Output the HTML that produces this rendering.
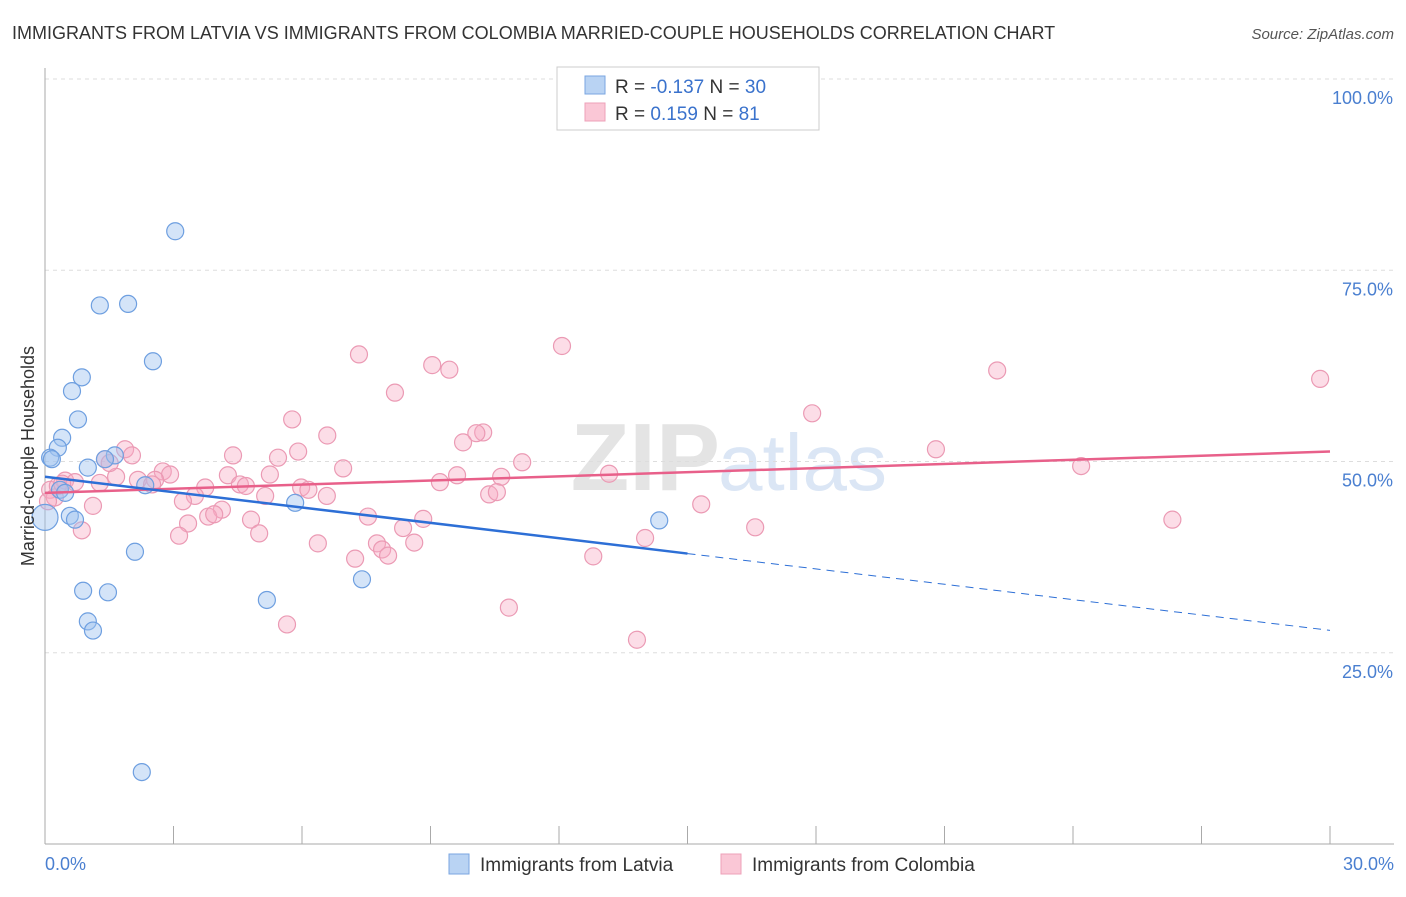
<!DOCTYPE html>
<html><head><meta charset="utf-8"><style>
body{margin:0;background:#fff;font-family:"Liberation Sans",sans-serif}
svg text{font-family:"Liberation Sans",sans-serif}
</style></head><body>
<svg id="c" width="1406" height="892">
<text x="12" y="39" font-size="18" fill="#333">IMMIGRANTS FROM LATVIA VS IMMIGRANTS FROM COLOMBIA MARRIED-COUPLE HOUSEHOLDS CORRELATION CHART</text>
<text x="1394" y="39" font-size="15" fill="#555" font-style="italic" text-anchor="end">Source: ZipAtlas.com</text>
<text x="720" y="490" font-size="96" font-family="Liberation Serif" fill="#e4e4e4" text-anchor="end" font-weight="bold">ZIP</text>
<text x="718" y="490" font-size="80" fill="#dbe6f5">atlas</text>
<g id="grid"></g><g id="pts"></g><g id="lines"></g>
<text transform="translate(34,456) rotate(-90)" font-size="18" fill="#333" text-anchor="middle">Married-couple Households</text>
<text x="45" y="870" font-size="18" fill="#4a7fd0">0.0%</text>
<text x="1394" y="870" font-size="18" fill="#4a7fd0" text-anchor="end">30.0%</text>
<g>
<rect x="557" y="67" width="262" height="63" fill="#fff" stroke="#ccc"/>
<rect x="585" y="76" width="20" height="18" fill="#b9d3f3" stroke="#7aa6e0"/>
<rect x="585" y="103" width="20" height="18" fill="#fac7d6" stroke="#eea0b8"/>
<text x="615" y="93" font-size="19" fill="#333">R = <tspan fill="#3a72cc">-0.137</tspan>   N = <tspan fill="#3a72cc">30</tspan></text>
<text x="615" y="120" font-size="19" fill="#333">R =  <tspan fill="#3a72cc"> 0.159</tspan>   N =  <tspan fill="#3a72cc"> 81</tspan></text>
</g>
<g>
<rect x="449" y="854" width="20" height="20" fill="#b9d3f3" stroke="#7aa6e0"/>
<text x="480" y="871" font-size="19" fill="#333">Immigrants from Latvia</text>
<rect x="721" y="854" width="20" height="20" fill="#fac7d6" stroke="#eea0b8"/>
<text x="752" y="871" font-size="19" fill="#333">Immigrants from Colombia</text>
</g>
</svg>
<script>
const yTicks=[25,50,75,100];
const yTickLabels=["25.0%","50.0%","75.0%","100.0%"];
const xTicks=[0,3,6,9,12,15,18,21,24,27,30];
const latviaX=[3.04,1.28,1.94,2.52,0.86,0.63,0.77,0.40,0.30,0.12,0.16,1.00,1.63,1.40,0.35,0.47,2.34,5.84,0.58,0.70,0,2.10,0.89,1.47,1.00,1.12,5.18,7.40,14.34,2.26];
const latviaY=[80.1,70.4,70.6,63.1,61.0,59.2,55.5,53.1,51.8,50.5,50.3,49.2,50.8,50.3,46.3,45.9,46.9,44.6,42.9,42.4,42.7,38.2,33.1,32.9,29.1,27.9,31.9,34.6,42.3,9.4];
const colX=[12.07,7.33,9.04,9.44,22.23,29.77,8.17,17.91,5.77,10.23,10.07,6.59,9.76,20.80,1.87,5.91,4.39,2.03,1.40,5.44,11.14,24.19,6.96,2.75,2.92,5.25,13.17,4.27,9.62,10.65,1.66,2.17,2.57,0.47,0.70,1.28,9.22,4.55,4.69,2.50,3.74,5.98,6.15,0.12,0.23,10.37,10.55,3.50,5.14,6.58,3.22,15.32,1.12,4.13,3.81,3.95,7.54,8.83,4.81,26.32,3.34,16.58,8.36,0.86,5.00,3.13,14.01,6.37,7.75,8.62,7.87,8.01,7.24,12.80,5.65,10.83,13.82,0.07,0.30,0.40,1.51];
const colY=[65.1,64.0,62.6,62.0,61.9,60.8,59.0,56.3,55.5,53.8,53.7,53.4,52.5,51.6,51.6,51.3,50.8,50.8,50.3,50.5,49.9,49.4,49.1,48.7,48.3,48.3,48.4,48.2,48.2,48.0,48.0,47.6,47.6,47.5,47.3,47.2,47.3,47.0,46.8,47.0,46.6,46.6,46.3,46.3,45.3,45.7,46.0,45.5,45.5,45.5,44.8,44.4,44.2,43.7,42.8,43.1,42.8,42.5,42.4,42.4,41.9,41.4,41.3,41.0,40.6,40.3,40.0,39.3,39.3,39.4,38.5,37.7,37.3,37.6,28.7,30.9,26.7,44.8,46.8,47.1,49.8];
const latviaTrend=[48.0,-0.669]; // intercept, slope per %
const colTrend=[45.9,0.18];
const NS="http://www.w3.org/2000/svg";
const sx=v=>45+v/30*1285, sy=v=>844-v/100*765;
function mk(t,a,p){const e=document.createElementNS(NS,t);for(const k in a)e.setAttribute(k,a[k]);p.appendChild(e);return e;}
const grid=document.getElementById('grid');
yTicks.forEach((t,i)=>{
 const l=mk('line',{x1:45,x2:1394,y1:sy(t),y2:sy(t),stroke:'#ddd','stroke-dasharray':'4,4'},grid);
 
 
 const tx=mk('text',{x:1393,y:sy(t)+25,'font-size':18,fill:'#4a7fd0','text-anchor':'end'},grid);
 tx.textContent=yTickLabels[i];
 
 
});
const ax=mk('line',{x1:45,x2:45,y1:68,y2:844,stroke:'#aaa'},grid);


const bx=mk('line',{x1:45,x2:1394,y1:844,y2:844,stroke:'#aaa'},grid);


xTicks.forEach(t=>{const l=mk('line',{x1:sx(t),x2:sx(t),y1:826,y2:844,stroke:'#aaa'},grid);
 
 });
const pts=document.getElementById('pts');
colX.forEach((x,i)=>{const c=mk('circle',{cx:sx(x),cy:sy(colY[i]),r:8.5,fill:'rgba(247,170,195,0.4)',stroke:'#eb9ab4','stroke-width':1.2},pts);
 
 });
latviaX.forEach((x,i)=>{const c=mk('circle',{cx:sx(x),cy:sy(latviaY[i]),r:x===0?13:8.5,fill:'rgba(160,196,240,0.45)',stroke:'#6e9fe0','stroke-width':1.2},pts);
 
 });
const lines=document.getElementById('lines');
const f=(tr,x)=>tr[0]+tr[1]*x;
let a=mk('line',{x1:sx(0),y1:sy(f(colTrend,0)),x2:sx(30),y2:sy(f(colTrend,30)),stroke:'#e8608a','stroke-width':2.5},lines);


a=mk('line',{x1:sx(0),y1:sy(f(latviaTrend,0)),x2:sx(15),y2:sy(f(latviaTrend,15)),stroke:'#2d6fd6','stroke-width':2.5},lines);


a=mk('line',{x1:sx(15),y1:sy(f(latviaTrend,15)),x2:sx(30),y2:sy(f(latviaTrend,30)),stroke:'#2d6fd6','stroke-width':1,'stroke-dasharray':'8,6'},lines);


</script>
</body></html>
